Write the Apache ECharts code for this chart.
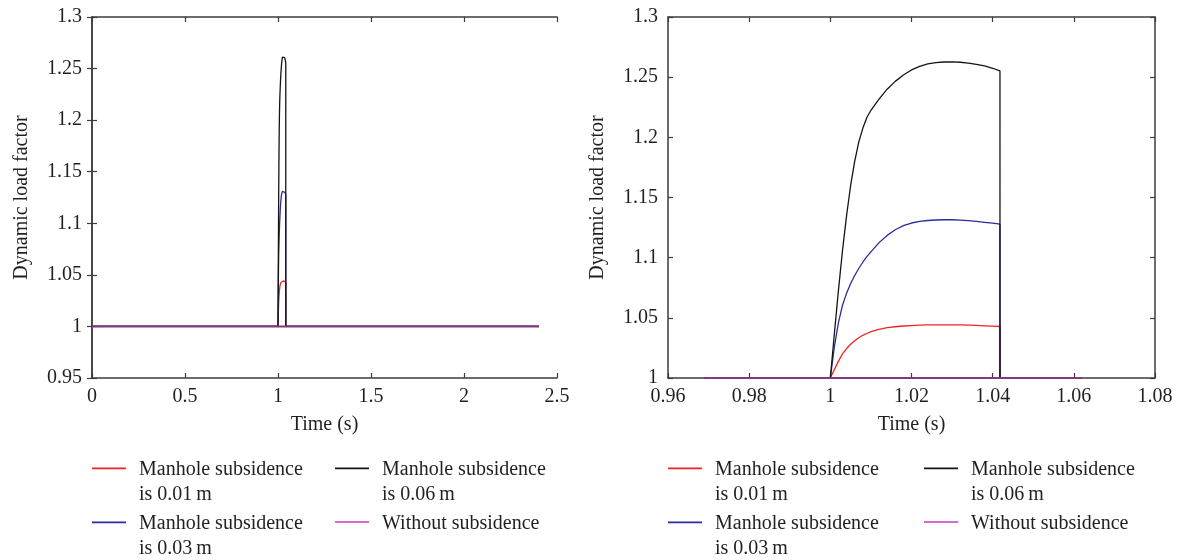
<!DOCTYPE html>
<html>
<head>
<meta charset="utf-8">
<script src="https://cdn.jsdelivr.net/npm/echarts@6/dist/echarts.min.js"></script>
<style>
  html, body { margin: 0; padding: 0; background: #fff; }
  #chart { width: 1178px; height: 560px; }
</style>
</head>
<body>
<div id="chart"></div>
<script>
// Time samples (s) over the pass across the manhole
const pulseTime = [1.000, 1.001, 1.002, 1.003, 1.004, 1.005, 1.006, 1.007, 1.008, 1.009,
  1.010, 1.012, 1.014, 1.016, 1.018, 1.020, 1.022, 1.024, 1.026, 1.028,
  1.030, 1.032, 1.034, 1.036, 1.038, 1.040, 1.0418];

// Dynamic load factor for each manhole subsidence
const dlf001 = [1.000, 1.007, 1.014, 1.020, 1.0245, 1.028, 1.031, 1.0335, 1.0355, 1.037,
  1.0385, 1.0405, 1.0418, 1.0426, 1.0432, 1.0436, 1.0439, 1.0441, 1.0442, 1.0442,
  1.0442, 1.0441, 1.0439, 1.0437, 1.0434, 1.0431, 1.0428];
const dlf003 = [1.000, 1.026, 1.046, 1.0605, 1.0705, 1.0785, 1.0852, 1.0910, 1.0962, 1.1008,
  1.1048, 1.1125, 1.1185, 1.1232, 1.1266, 1.1288, 1.1301, 1.1309, 1.1313, 1.1315,
  1.1315, 1.1312, 1.1307, 1.1301, 1.1294, 1.1287, 1.1279];
const dlf006 = [1.000, 1.037, 1.073, 1.106, 1.135, 1.160, 1.180, 1.196, 1.2075, 1.2165,
  1.2225, 1.2318, 1.2400, 1.2465, 1.2518, 1.2560, 1.2590, 1.2610, 1.2621, 1.2626,
  1.2627, 1.2624, 1.2617, 1.2607, 1.2593, 1.2574, 1.2552];

// Factor outside the manhole and time windows of the two panels
const baseFactor = 1;
const fullSpan = [0, 2.403];
const zoomSpan = [0.969, 1.062];

const seriesNames = [
  'Manhole subsidence\nis 0.01\u2009m',
  'Manhole subsidence\nis 0.03\u2009m',
  'Manhole subsidence\nis 0.06\u2009m',
  'Without subsidence'
];

// Axis ticks
const fullXTicks = [0, 0.5, 1, 1.5, 2, 2.5];
const fullYTicks = [0.95, 1, 1.05, 1.1, 1.15, 1.2, 1.25, 1.3];
const zoomXTicks = [0.96, 0.98, 1, 1.02, 1.04, 1.06, 1.08];
const zoomYTicks = [1, 1.05, 1.1, 1.15, 1.2, 1.25, 1.3];

const FONT = 'Liberation Serif, Times New Roman, serif';
const TEXT = '#231f20';
const AXIS = '#3c3c3c';
const colors = ['#f02323', '#2b2b9e', '#141414', '#c83cc8'];
const flatColor = '#86387f';   // "without subsidence" trace drawn over the others

function pulseSeries(values, span) {
  const pts = [[span[0], baseFactor]];
  pulseTime.forEach((t, i) => pts.push([t, values[i]]));
  pts.push([pulseTime[pulseTime.length - 1], baseFactor]);
  pts.push([span[1], baseFactor]);
  return pts;
}

function makeAxes(gridIndex, xr, yr, xTicks, yTicks) {
  const line = { show: true, lineStyle: { color: AXIS, width: 1.5 } };
  const tick = (vals) => ({ show: true, inside: true, length: 5, customValues: vals,
    lineStyle: { color: AXIS, width: 1.2 } });
  const lbl = (vals, margin) => ({ show: true, customValues: vals, margin: margin,
    fontFamily: FONT, fontSize: 20, color: TEXT });
  const x = [
    { type: 'value', gridIndex, position: 'bottom', min: xr[0], max: xr[1],
      axisLine: line, axisTick: tick(xTicks), axisLabel: lbl(xTicks, 9), splitLine: { show: false },
      name: 'Time (s)', nameLocation: 'middle', nameGap: 37,
      nameTextStyle: { fontFamily: FONT, fontSize: 20, color: TEXT } },
    { type: 'value', gridIndex, position: 'top', min: xr[0], max: xr[1],
      axisLine: line, axisTick: tick(xTicks), axisLabel: { show: false }, splitLine: { show: false } }
  ];
  const y = [
    { type: 'value', gridIndex, position: 'left', min: yr[0], max: yr[1],
      axisLine: line, axisTick: tick(yTicks), axisLabel: lbl(yTicks, 10), splitLine: { show: false },
      name: 'Dynamic load factor', nameLocation: 'middle', nameGap: 60, nameRotate: 90,
      nameTextStyle: { fontFamily: FONT, fontSize: 20, color: TEXT } },
    { type: 'value', gridIndex, position: 'right', min: yr[0], max: yr[1],
      axisLine: line, axisTick: tick(yTicks), axisLabel: { show: false }, splitLine: { show: false } }
  ];
  return { x, y };
}

const leftAxes = makeAxes(0, [0, 2.5], [0.95, 1.3], fullXTicks, fullYTicks);
const rightAxes = makeAxes(1, [0.96, 1.08], [1, 1.3], zoomXTicks, zoomYTicks);

function panelSeries(span, xIdx, yIdx) {
  const vals = [dlf001, dlf003, dlf006];
  const out = vals.map((v, i) => ({
    name: seriesNames[i], type: 'line', xAxisIndex: xIdx, yAxisIndex: yIdx,
    data: pulseSeries(v, span), showSymbol: false, symbol: 'none', animation: false,
    lineStyle: { color: colors[i], width: 1.3 }, itemStyle: { color: colors[i] }
  }));
  out.push({
    name: seriesNames[3], type: 'line', xAxisIndex: xIdx, yAxisIndex: yIdx,
    data: [[span[0], baseFactor], [span[1], baseFactor]], showSymbol: false, symbol: 'none',
    animation: false, lineStyle: { color: flatColor, width: 2 },
    itemStyle: { color: colors[3] }
  });
  return out;
}

// Short line swatches; the trailing zero-length segment sets the box height so the
// swatch lines up with the first text line of the entry
const twoLineIcon = 'path://M0,0H34V1.6H0ZM0,29.8L0.01,29.8';
const oneLineIcon = 'path://M0,0H34V1.6H0ZM0,5.6L0.01,5.6';

// One legend block per entry, laid out in two columns under each panel
function legendItem(idx, left, top) {
  const multi = seriesNames[idx].indexOf('\n') >= 0;
  return {
    left, top, padding: 0, orient: 'horizontal',
    itemWidth: 34, itemHeight: multi ? 29.8 : 5.6, selectedMode: false,
    data: [{ name: seriesNames[idx], icon: multi ? twoLineIcon : oneLineIcon,
      itemStyle: { color: colors[idx], borderWidth: 0 } }],
    textStyle: { fontFamily: FONT, fontSize: 20, color: TEXT, lineHeight: 25,
      padding: [0, 0, 0, 8] }
  };
}
const legends = [];
[[92, 335], [668, 924]].forEach(([c1, c2]) => {
  legends.push(legendItem(0, c1, 457.5));
  legends.push(legendItem(2, c2, 457.5));
  legends.push(legendItem(1, c1, 511.5));
  legends.push(legendItem(3, c2, 511.5));
});

const chart = echarts.init(document.getElementById('chart'), null, { renderer: 'canvas' });
chart.setOption({
  backgroundColor: '#fff',
  animation: false,
  grid: [
    { left: 92, top: 17, width: 465, height: 361 },
    { left: 668, top: 17, width: 487, height: 361 }
  ],
  xAxis: [...leftAxes.x, ...rightAxes.x],
  yAxis: [...leftAxes.y, ...rightAxes.y],
  legend: legends,
  series: [...panelSeries(fullSpan, 0, 0), ...panelSeries(zoomSpan, 2, 2)]
});
</script>
</body>
</html>
